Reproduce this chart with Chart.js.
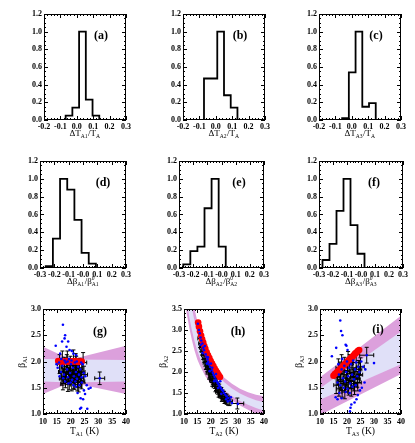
<!DOCTYPE html>
<html>
<head>
<meta charset="utf-8">
<script src="https://cdn.jsdelivr.net/npm/chart.js"></script>
<style>
  body { margin: 0; background: #fff; width: 415px; height: 443px; position: relative; overflow: hidden; }
  canvas { position: absolute; }
</style>
</head>
<body>
<script>
// ---- histogram data (bin edges + normalised heights) ----
const edgesA = [-0.068, -0.027, 0.014, 0.055, 0.096, 0.137];
const heightsA = [0.05, 0.14, 1.0, 0.23, 0.05];
const edgesB = [-0.072, -0.031, 0.009, 0.050, 0.091, 0.132];
const heightsB = [0.47, 0.47, 1.0, 0.28, 0.14];
const edgesC = [-0.059, -0.018, 0.023, 0.064, 0.105, 0.146];
const heightsC = [0.02, 0.54, 1.0, 0.15, 0.19];
const edgesD = [-0.26, -0.21, -0.16, -0.11, -0.06, -0.01, 0.04, 0.09];
const heightsD = [0.02, 0.33, 1.0, 0.88, 0.54, 0.17, 0.05];
const edgesE = [-0.27, -0.22, -0.17, -0.12, -0.07, -0.02, 0.03];
const heightsE = [0.04, 0.19, 0.24, 0.67, 1.0, 0.24];
const edgesF = [-0.275, -0.225, -0.175, -0.125, -0.075, -0.025, 0.025];
const heightsF = [0.09, 0.27, 0.64, 1.0, 0.48, 0.16];

// ---- tick values / labels ----
const histYTicks = [0, 0.2, 0.4, 0.6, 0.8, 1.0, 1.2];
const histYLabels = ['0.0', '0.2', '0.4', '0.6', '0.8', '1.0', '1.2'];
const topXTicks = [-0.2, -0.1, 0, 0.1, 0.2, 0.3];
const topXLabels = ['-0.2', '-0.1', '0.0', '0.1', '0.2', '0.3'];
const midXTicks = [-0.3, -0.2, -0.1, 0, 0.1, 0.2, 0.3];
const midXLabels = ['-0.3', '-0.2', '-0.1', '-0.0', '0.1', '0.2', '0.3'];
const tempTicks = [10, 15, 20, 25, 30, 35, 40];
const tempLabels = ['10', '15', '20', '25', '30', '35', '40'];
const betaTicks = [1.0, 1.5, 2.0, 2.5, 3.0];
const betaLabels = ['1.0', '1.5', '2.0', '2.5', '3.0'];
const betaTicksH = [1.0, 1.5, 2.0, 2.5, 3.0, 3.5];
const betaLabelsH = ['1.0', '1.5', '2.0', '2.5', '3.0', '3.5'];

// ---- panel (g) ----
const gBandX = [10, 20, 40];
const gOuterHi = [2.28, 2.04, 2.30];
const gOuterLo = [1.38, 1.60, 1.38];
const gInnerHi = [2.05, 2.04, 2.03];
const gInnerLo = [1.62, 1.60, 1.62];
const gRedX = [15.5, 16, 16.5, 17, 17.5, 18, 18.5, 19, 19.5, 20, 20.5, 21, 21.5, 22, 22.5, 23, 23.5, 24];
const gRedY = [2.01, 2.0, 2.0, 1.99, 2.0, 2.0, 2.01, 2.0, 1.99, 2.0, 2.0, 2.0, 2.01, 2.0, 2.0, 1.99, 2.0, 2.0];
const gBlueX = [17.2, 18.0, 17.8, 16.9, 19.1, 14.6, 18.5, 19.6, 20.4, 16.2, 22.0, 21.0, 15.3, 14.9, 23.4, 23.8, 26.0, 24.5, 23.6, 25.2, 24.8, 26.5, 27.2, 25.8, 22.5, 21.9, 24.0, 23.2,
  16.5, 17.0, 17.6, 18.2, 18.7, 19.0, 19.4, 19.8, 20.1, 20.5, 20.8, 21.2, 21.5, 21.9, 22.3, 22.7, 23.0, 23.5, 24.0, 24.3, 18.0, 19.2, 20.0, 21.0, 17.3, 16.0, 18.9, 20.3, 22.2, 23.8, 17.8, 21.7, 24.7, 25.3, 15.8, 16.6, 30.5];
const gBlueY = [2.70, 2.50, 2.44, 2.38, 2.38, 2.30, 2.28, 2.22, 2.20, 2.15, 2.12, 2.15, 1.88, 1.95, 1.10, 1.12, 1.10, 1.28, 1.30, 1.38, 1.45, 1.48, 1.50, 1.55, 1.40, 1.52, 1.60, 1.55,
  1.80, 1.92, 1.75, 1.98, 1.85, 1.70, 2.05, 1.78, 1.95, 1.65, 1.88, 1.72, 1.98, 1.80, 1.67, 1.90, 1.75, 1.85, 1.70, 1.95, 1.62, 1.58, 1.60, 1.55, 1.68, 1.72, 2.00, 2.02, 2.00, 1.98, 2.02, 1.62, 1.78, 1.72, 1.98, 2.05, 1.68];
const gErrX = [16.0, 16.5, 17.0, 17.4, 17.8, 18.1, 18.5, 18.8, 19.2, 19.5, 19.9, 20.2, 20.6, 21.0, 21.3, 21.7, 22.0, 22.4, 22.8, 23.2, 23.6, 24.0, 24.5, 17.2, 18.3, 19.0, 19.7, 20.4, 21.1, 21.8, 22.5, 23.1, 23.9, 16.8, 18.6, 20.0, 21.5, 22.9, 24.8, 30.5];
const gErrY = [1.95, 1.80, 2.00, 1.72, 1.90, 1.65, 1.85, 2.00, 1.75, 1.62, 1.92, 1.70, 1.84, 2.02, 1.64, 1.78, 1.92, 1.60, 1.74, 1.88, 1.68, 1.80, 1.98, 1.58, 1.76, 1.56, 1.86, 1.60, 1.70, 1.96, 1.66, 1.82, 1.62, 1.68, 1.96, 1.78, 1.88, 1.56, 1.75, 1.68];
const gErrDX = [0.8, 0.9, 1.0, 0.8, 1.1, 0.9, 1.0, 1.2, 0.9, 1.0, 1.1, 0.8, 1.2, 1.0, 0.9, 1.1, 1.0, 1.2, 0.9, 1.0, 1.1, 1.2, 1.3, 0.8, 1.0, 0.9, 1.1, 1.0, 1.2, 0.9, 1.1, 1.0, 1.2, 0.9, 1.0, 1.1, 0.9, 1.2, 1.3, 1.8];
const gErrDY = [0.18, 0.15, 0.20, 0.14, 0.18, 0.15, 0.16, 0.20, 0.14, 0.16, 0.18, 0.13, 0.16, 0.20, 0.17, 0.15, 0.18, 0.16, 0.14, 0.18, 0.17, 0.16, 0.19, 0.12, 0.15, 0.13, 0.17, 0.16, 0.22, 0.19, 0.15, 0.17, 0.14, 0.13, 0.17, 0.15, 0.16, 0.14, 0.16, 0.12];

// ---- panel (h) ----
const hBandX = [10, 11, 12, 13, 14, 15, 16, 18, 20, 22, 25, 28, 31, 34, 37, 40];
const hOuterHi = [5.3, 4.7, 4.2, 3.8, 3.5, 3.2, 2.95, 2.55, 2.28, 2.08, 1.87, 1.72, 1.60, 1.52, 1.46, 1.42];
const hOuterLo = [3.9, 3.4, 3.05, 2.75, 2.5, 2.3, 2.15, 1.9, 1.72, 1.6, 1.45, 1.32, 1.2, 1.10, 1.0, 0.94];
const hInnerHi = [4.9, 4.35, 3.9, 3.5, 3.2, 2.95, 2.72, 2.37, 2.12, 1.95, 1.76, 1.61, 1.49, 1.40, 1.33, 1.28];
const hInnerLo = [4.2, 3.7, 3.3, 2.98, 2.72, 2.5, 2.33, 2.06, 1.86, 1.73, 1.57, 1.43, 1.31, 1.22, 1.14, 1.08];
const hRedX = [15.3, 15.6, 16.0, 16.4, 16.8, 17.2, 17.6, 18.0, 18.5, 19.0, 19.5, 20.0, 20.5, 21.0, 21.5, 22.0, 22.5, 23.0, 23.5];
const hRedY = [3.18, 3.08, 2.97, 2.87, 2.78, 2.70, 2.62, 2.55, 2.47, 2.40, 2.33, 2.26, 2.20, 2.14, 2.08, 2.03, 1.98, 1.93, 1.88];
const hBlueX = [15.2, 15.6, 15.9, 16.2, 16.5, 16.9, 17.2, 17.5, 17.8, 18.1, 18.4, 18.8, 19.1, 19.4, 19.8, 20.1, 20.4, 20.8, 21.1, 21.5, 21.8, 22.2, 22.6, 23.0, 23.4, 23.8, 24.2, 24.6, 25.0, 25.5, 26.0, 26.6, 27.2, 28.0,
  17.0, 18.6, 19.6, 21.3, 22.8, 24.0, 25.8, 20.6, 22.0, 23.6, 16.3, 19.0, 26.4, 27.6, 30.2];
const hBlueY = [3.15, 3.00, 2.92, 2.82, 2.75, 2.68, 2.58, 2.52, 2.62, 2.42, 2.36, 2.30, 2.24, 2.18, 2.12, 2.20, 2.04, 1.98, 1.93, 1.88, 1.82, 1.78, 1.74, 1.70, 1.66, 1.62, 1.58, 1.55, 1.50, 1.46, 1.42, 1.38, 1.32, 1.26,
  2.45, 2.20, 2.02, 1.78, 1.62, 1.48, 1.35, 2.10, 1.95, 1.78, 2.65, 2.35, 1.30, 1.40, 1.24];
const hErrX = [16.0, 16.4, 16.8, 17.2, 17.6, 18.0, 18.4, 18.8, 19.2, 19.6, 20.0, 20.4, 20.8, 21.2, 21.6, 22.0, 22.4, 22.8, 23.2, 23.6, 24.0, 24.5, 25.0, 25.5, 26.0, 26.5, 27.0, 17.0, 18.2, 19.4, 20.6, 21.8, 23.0, 24.2, 25.2, 30.0];
const hErrY = [2.80, 2.68, 2.58, 2.50, 2.40, 2.32, 2.25, 2.18, 2.10, 2.02, 1.96, 1.90, 1.85, 1.80, 1.74, 1.70, 1.64, 1.60, 1.57, 1.52, 1.50, 1.45, 1.42, 1.38, 1.35, 1.32, 1.30, 2.62, 2.22, 1.98, 1.80, 1.66, 1.52, 1.42, 1.36, 1.25];
const hErrDX = [0.8, 0.9, 1.0, 0.9, 1.0, 1.1, 0.9, 1.0, 1.1, 1.0, 0.9, 1.1, 1.0, 1.2, 1.0, 1.1, 0.9, 1.0, 1.2, 1.1, 1.0, 1.2, 1.1, 1.3, 1.2, 1.1, 1.2, 0.9, 1.0, 1.1, 1.0, 1.2, 1.1, 1.2, 1.3, 2.4];
const hErrDY = [0.22, 0.20, 0.18, 0.20, 0.17, 0.18, 0.16, 0.17, 0.15, 0.16, 0.14, 0.15, 0.14, 0.15, 0.13, 0.14, 0.12, 0.13, 0.14, 0.12, 0.13, 0.12, 0.12, 0.11, 0.12, 0.11, 0.10, 0.20, 0.16, 0.15, 0.14, 0.13, 0.12, 0.12, 0.11, 0.13];

// ---- panel (i) ----
const iBandX = [10, 25, 40];
const iOuterHi = [1.70, 2.28, 2.87];
const iOuterLo = [0.98, 1.37, 1.76];
const iInnerHi = [1.49, 2.03, 2.57];
const iInnerLo = [1.27, 1.61, 1.95];
const iRedX = [15.0, 15.5, 16.0, 16.5, 17.0, 17.5, 18.0, 18.5, 19.0, 19.5, 20.0, 20.5, 21.0, 21.5, 22.0, 22.5, 23.0, 23.5, 24.0, 24.5];
const iRedY = [1.73, 1.76, 1.78, 1.81, 1.83, 1.86, 1.89, 1.91, 1.94, 1.96, 1.99, 2.02, 2.04, 2.07, 2.09, 2.12, 2.15, 2.17, 2.20, 2.22];
const iBlueX = [17.5, 17.8, 18.3, 19.5, 19.8, 20.2, 14.4, 16.0, 15.8, 16.5, 18.0, 20.8, 21.1, 21.3, 21.6, 23.5, 24.0, 22.8, 25.5, 26.5, 24.8, 26.0, 25.3, 30.0, 26.8,
  16.5, 17.0, 17.5, 18.0, 18.5, 19.0, 19.3, 19.7, 20.0, 20.4, 20.8, 21.2, 21.5, 21.9, 22.3, 22.6, 23.0, 23.4, 23.8, 24.2, 24.6, 18.8, 20.2, 22.0, 23.2, 17.2, 19.5, 21.0, 16.8, 18.2, 27.3];
const iBlueY = [2.78, 2.58, 2.50, 2.32, 2.30, 2.22, 2.10, 2.26, 1.32, 1.28, 1.30, 1.00, 1.05, 1.12, 1.18, 1.28, 1.36, 1.22, 1.50, 1.60, 1.45, 1.90, 2.00, 1.97, 1.85,
  1.60, 1.75, 1.55, 1.85, 1.68, 1.92, 1.62, 1.80, 2.00, 1.72, 1.88, 1.58, 1.95, 1.75, 2.02, 1.66, 1.85, 1.98, 1.72, 1.90, 1.80, 1.50, 1.48, 1.52, 1.55, 1.40, 1.42, 1.40, 1.95, 2.05, 2.12];
const iErrX = [16.0, 16.5, 17.0, 17.4, 17.8, 18.2, 18.6, 19.0, 19.4, 19.8, 20.2, 20.6, 21.0, 21.4, 21.8, 22.2, 22.6, 23.0, 23.4, 23.8, 24.2, 24.6, 16.8, 18.0, 19.2, 20.4, 21.6, 22.8, 24.0, 17.5, 20.0, 22.4, 25.0, 27.3];
const iErrY = [1.55, 1.70, 1.48, 1.82, 1.62, 1.45, 1.75, 1.90, 1.56, 1.68, 1.82, 1.50, 1.95, 1.64, 1.78, 1.88, 1.58, 1.72, 1.98, 1.66, 1.85, 1.75, 1.88, 1.95, 1.42, 2.00, 1.48, 1.52, 1.60, 1.65, 1.60, 1.70, 1.90, 2.12];
const iErrDX = [0.9, 1.0, 0.8, 1.1, 1.0, 0.9, 1.2, 1.0, 0.9, 1.1, 1.0, 1.2, 1.1, 0.9, 1.0, 1.2, 1.1, 1.0, 1.2, 1.1, 1.3, 1.2, 0.9, 1.0, 1.1, 1.2, 1.0, 1.1, 1.3, 0.9, 1.0, 1.1, 1.4, 2.6];
const iErrDY = [0.16, 0.15, 0.14, 0.17, 0.15, 0.13, 0.16, 0.18, 0.14, 0.15, 0.17, 0.14, 0.18, 0.15, 0.16, 0.17, 0.14, 0.15, 0.18, 0.15, 0.17, 0.16, 0.17, 0.18, 0.13, 0.19, 0.14, 0.15, 0.16, 0.15, 0.14, 0.15, 0.17, 0.15];

Chart.defaults.font.family = '"Liberation Serif", "Times New Roman", serif';
Chart.defaults.font.weight = 'bold';
Chart.defaults.color = '#000';
Chart.defaults.animation = false;
Chart.defaults.plugins.legend.display = false;
Chart.defaults.plugins.tooltip.enabled = false;

const SERIF = '"Liberation Serif", "Times New Roman", serif';

// draw text with sub/superscripts, centred at (cx, cy)
function richText(ctx, segs, cx, cy, size) {
  const main = size + 'px ' + SERIF, small = (size * 0.62).toFixed(1) + 'px ' + SERIF;
  const items = segs.map(s => {
    if (typeof s === 'string') {
      ctx.font = main;
      return { s, w: ctx.measureText(s).width };
    }
    ctx.font = small;
    const w = Math.max(s.sub ? ctx.measureText(s.sub).width : 0, s.sup ? ctx.measureText(s.sup).width : 0);
    return { s, w: w + 0.5 };
  });
  let x = cx - items.reduce((a, b) => a + b.w, 0) / 2;
  ctx.textBaseline = 'alphabetic';
  ctx.textAlign = 'left';
  const base = cy + size * 0.33;
  items.forEach(it => {
    if (typeof it.s === 'string') {
      ctx.font = main;
      ctx.fillText(it.s, x, base);
    } else {
      ctx.font = small;
      if (it.s.sub) ctx.fillText(it.s.sub, x, base + size * 0.22);
      if (it.s.sup) ctx.fillText(it.s.sup, x, base - size * 0.42);
    }
    x += it.w;
  });
}

const idl = {
  id: 'idl',
  beforeDatasetDraw(chart, args, o) {
    if (!o.err || args.index !== o.errAt) return;
    const { ctx, scales: { x, y } } = chart;
    const e = o.err;
    ctx.save();
    ctx.strokeStyle = '#000';
    ctx.lineWidth = 1;
    ctx.beginPath();
    for (let i = 0; i < e.x.length; i++) {
      const px = x.getPixelForValue(e.x[i]), py = y.getPixelForValue(e.y[i]);
      const x0 = x.getPixelForValue(e.x[i] - e.dx[i]), x1 = x.getPixelForValue(e.x[i] + e.dx[i]);
      const y0 = y.getPixelForValue(e.y[i] - e.dy[i]), y1 = y.getPixelForValue(e.y[i] + e.dy[i]);
      ctx.moveTo(x0, py); ctx.lineTo(x1, py);
      ctx.moveTo(px, y0); ctx.lineTo(px, y1);
      ctx.moveTo(x0, py - 2); ctx.lineTo(x0, py + 2);
      ctx.moveTo(x1, py - 2); ctx.lineTo(x1, py + 2);
      ctx.moveTo(px - 2, y0); ctx.lineTo(px + 2, y0);
      ctx.moveTo(px - 2, y1); ctx.lineTo(px + 2, y1);
    }
    ctx.stroke();
    ctx.restore();
  },
  afterDraw(chart, args, o) {
    const { ctx, chartArea: a, scales: { x, y } } = chart;
    ctx.save();
    ctx.strokeStyle = '#000';
    ctx.fillStyle = '#000';
    ctx.lineWidth = 1;
    ctx.strokeRect(a.left + 0.5, a.top + 0.5, a.right - a.left - 1, a.bottom - a.top - 1);
    ctx.beginPath();
    const tickSet = (sc, step, len, horiz) => {
      const n = Math.round((sc.max - sc.min) / step);
      for (let k = 0; k <= n; k++) {
        const p = Math.round(sc.getPixelForValue(sc.min + k * step)) + 0.5;
        if (horiz) {
          ctx.moveTo(p, a.bottom); ctx.lineTo(p, a.bottom - len);
          ctx.moveTo(p, a.top); ctx.lineTo(p, a.top + len);
        } else {
          ctx.moveTo(a.left, p); ctx.lineTo(a.left + len, p);
          ctx.moveTo(a.right, p); ctx.lineTo(a.right - len, p);
        }
      }
    };
    tickSet(x, o.minorX, 2, true);
    tickSet(y, o.minorY, 2, false);
    tickSet(x, o.majorX, 4, true);
    tickSet(y, o.majorY, 4, false);
    ctx.stroke();

    ctx.font = 'bold 12px ' + SERIF;
    ctx.textAlign = 'center';
    ctx.textBaseline = 'middle';
    ctx.fillText(o.label, a.left + o.labelPos[0], a.top + o.labelPos[1]);

    richText(ctx, o.xTitle, (a.left + a.right) / 2, a.bottom + o.xTitleOff, o.titleSize);
    if (o.yTitle) {
      ctx.save();
      ctx.translate(a.left - 21, (a.top + a.bottom) / 2);
      ctx.rotate(-Math.PI / 2);
      richText(ctx, o.yTitle, 0, 0, o.titleSize);
      ctx.restore();
    }
    ctx.restore();
  }
};

function axis(min, max, ticks, labels, size, pad, isX) {
  return {
    type: 'linear', min, max,
    grid: { display: false, drawTicks: false },
    border: { display: false },
    afterBuildTicks: s => { s.ticks = ticks.map(v => ({ value: v })); },
    afterFit: s => {
      if (isX) { s.height = 30; s.paddingLeft = 0; s.paddingRight = 0; }
      else { s.width = 40; s.paddingTop = 0; s.paddingBottom = 0; }
    },
    ticks: { autoSkip: false, maxRotation: 0, minRotation: 0, padding: pad, font: { size }, callback: (v, i) => labels[i] }
  };
}

function stepPoints(edges, heights) {
  const pts = [{ x: edges[0], y: 0 }];
  heights.forEach((h, i) => pts.push({ x: edges[i], y: h }));
  pts.push({ x: edges[edges.length - 1], y: 0 });
  return pts;
}

function xy(xs, ys) { return xs.map((v, i) => ({ x: v, y: ys[i] })); }

const titleT = n => ['ΔT', { sub: 'A' + n }, '/T', { sub: 'A' }];
const titleB = n => ['Δβ', { sub: 'A' + n }, '/β', { sup: '0', sub: 'A' + n }];

const hists = [
  { area: [44, 14, 82, 106], e: edgesA, h: heightsA, row: 1, label: '(a)', lp: [57, 22], t: titleT(1) },
  { area: [183, 14, 82, 106], e: edgesB, h: heightsB, row: 1, label: '(b)', lp: [57, 22], t: titleT(2) },
  { area: [319, 14, 82, 106], e: edgesC, h: heightsC, row: 1, label: '(c)', lp: [57, 22], t: titleT(3) },
  { area: [40, 161, 86, 107], e: edgesD, h: heightsD, row: 2, label: '(d)', lp: [63, 22], t: titleB(1) },
  { area: [179, 161, 85, 107], e: edgesE, h: heightsE, row: 2, label: '(e)', lp: [60, 22], t: titleB(2) },
  { area: [319, 161, 84, 107], e: edgesF, h: heightsF, row: 2, label: '(f)', lp: [55, 22], t: titleB(3) }
];

const scatters = [
  { area: [43, 309, 83, 105], label: '(g)', lp: [57, 23], n: 1, ymax: 3.0, yt: betaTicks, yl: betaLabels,
    bx: gBandX, oh: gOuterHi, ol: gOuterLo, ih: gInnerHi, il: gInnerLo,
    rx: gRedX, ry: gRedY, blx: gBlueX, bly: gBlueY, ex: gErrX, ey: gErrY, edx: gErrDX, edy: gErrDY },
  { area: [184, 309, 80, 105], label: '(h)', lp: [54, 23], n: 2, ymax: 3.5, yt: betaTicksH, yl: betaLabelsH,
    bx: hBandX, oh: hOuterHi, ol: hOuterLo, ih: hInnerHi, il: hInnerLo,
    rx: hRedX, ry: hRedY, blx: hBlueX, bly: hBlueY, ex: hErrX, ey: hErrY, edx: hErrDX, edy: hErrDY },
  { area: [320, 309, 81, 105], label: '(i)', lp: [58, 21], n: 3, ymax: 3.0, yt: betaTicks, yl: betaLabels,
    bx: iBandX, oh: iOuterHi, ol: iOuterLo, ih: iInnerHi, il: iInnerLo,
    rx: iRedX, ry: iRedY, blx: iBlueX, bly: iBlueY, ex: iErrX, ey: iErrY, edx: iErrDX, edy: iErrDY }
];

function makeCanvas(area) {
  const [l, t, w, h] = area;
  const cv = document.createElement('canvas');
  cv.width = w + 54; cv.height = h + 38;
  cv.style.left = (l - 40) + 'px';
  cv.style.top = (t - 8) + 'px';
  cv.style.width = cv.width + 'px';
  cv.style.height = cv.height + 'px';
  document.body.appendChild(cv);
  return cv;
}

const layout = { padding: { left: 0, top: 8, right: 14, bottom: 0 } };

hists.forEach(p => {
  const top = p.row === 1;
  new Chart(makeCanvas(p.area), {
    type: 'line',
    data: {
      datasets: [{
        data: stepPoints(p.e, p.h),
        stepped: 'before',
        borderColor: '#000',
        borderWidth: 1.8,
        pointRadius: 0,
        fill: false
      }]
    },
    options: {
      responsive: false,
      layout,
      scales: {
        x: axis(top ? -0.2 : -0.3, 0.3, top ? topXTicks : midXTicks, top ? topXLabels : midXLabels, 8, 2, true),
        y: axis(0, 1.2, histYTicks, histYLabels, 8, 2, false)
      },
      plugins: {
        idl: { minorX: 0.02, majorX: 0.1, minorY: 0.05, majorY: 0.2, label: p.label, labelPos: p.lp,
               xTitle: p.t, xTitleOff: 13, titleSize: 9 }
      }
    },
    plugins: [idl]
  });
});

scatters.forEach(p => {
  new Chart(makeCanvas(p.area), {
    type: 'scatter',
    data: {
      datasets: [
        { data: xy(p.blx, p.bly), backgroundColor: '#0000ff', pointRadius: 1.3, pointBorderWidth: 0, order: 0 },
        { data: xy(p.rx, p.ry), backgroundColor: '#ff0000', pointRadius: 3.3, pointBorderWidth: 0, order: 1 },
        { type: 'line', data: xy(p.bx, p.oh), borderWidth: 0, borderColor: 'transparent', pointRadius: 0, fill: 3, backgroundColor: '#dca0dc', order: 10 },
        { type: 'line', data: xy(p.bx, p.ol), borderWidth: 0, borderColor: 'transparent', pointRadius: 0, fill: false, order: 10 },
        { type: 'line', data: xy(p.bx, p.ih), borderWidth: 0, borderColor: 'transparent', pointRadius: 0, fill: 5, backgroundColor: '#e0e0f8', order: 9 },
        { type: 'line', data: xy(p.bx, p.il), borderWidth: 0, borderColor: 'transparent', pointRadius: 0, fill: false, order: 9 }
      ]
    },
    options: {
      responsive: false,
      layout,
      scales: {
        x: axis(10, 40, tempTicks, tempLabels, 8, 3, true),
        y: axis(1.0, p.ymax, p.yt, p.yl, 8, 2, false)
      },
      plugins: {
        idl: { minorX: 1, majorX: 5, minorY: 0.1, majorY: 0.5, label: p.label, labelPos: p.lp,
               xTitle: ['T', { sub: 'A' + p.n }, ' (K)'], yTitle: ['β', { sub: 'A' + p.n }],
               xTitleOff: 16.5, titleSize: 9.5,
               err: { x: p.ex, y: p.ey, dx: p.edx, dy: p.edy }, errAt: 1 }
      }
    },
    plugins: [idl]
  });
});
</script>
</body>
</html>
